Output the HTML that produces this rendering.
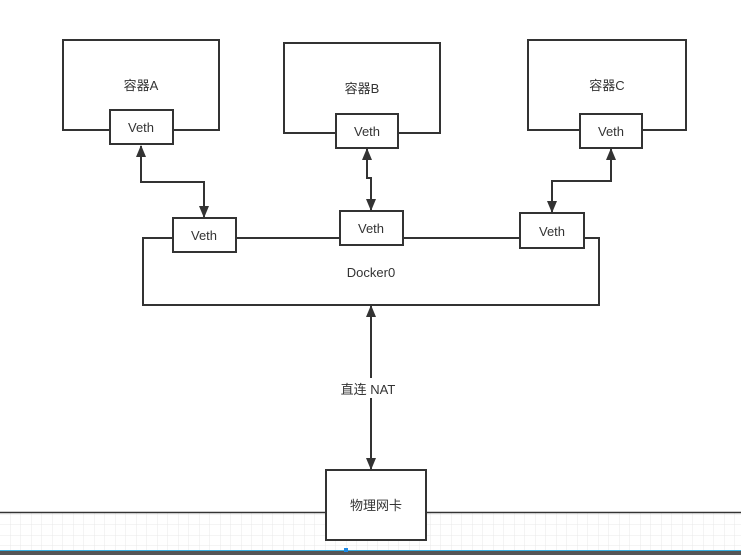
<!DOCTYPE html>
<html><head><meta charset="utf-8"><style>
body{margin:0;width:741px;height:555px;overflow:hidden;background:#fff}
svg text{font-family:"Liberation Sans","Noto Sans CJK SC",sans-serif;font-size:13px;fill:#333;text-anchor:middle}
</style></head><body>
<svg width="741" height="555" viewBox="0 0 741 555">
<defs>
<pattern id="g" width="10.5" height="10.5" patternUnits="userSpaceOnUse"><path d="M10.5 0V10.5M0 10.5H10.5" stroke="#e8e8e8" stroke-width="1" fill="none"/></pattern>
<marker id="a" markerWidth="12" markerHeight="10" refX="11" refY="5" orient="auto-start-reverse" markerUnits="userSpaceOnUse"><path d="M0 0L12 5L0 10z" fill="#333"/></marker>
</defs>
<rect x="0" y="513" width="741" height="37" fill="url(#g)"/>
<line x1="0" y1="512.5" x2="741" y2="512.5" stroke="#333" stroke-width="1.5"/>
<rect x="0" y="550" width="741" height="5" fill="#555"/>
<line x1="0" y1="550.5" x2="741" y2="550.5" stroke="#3ab0e0" stroke-width="1"/>
<rect x="344" y="548" width="4" height="4" fill="#1e88e5"/>
<g fill="#fff" stroke="#333" stroke-width="2">
<rect x="63" y="40" width="156" height="90"/>
<rect x="284" y="43" width="156" height="90"/>
<rect x="528" y="40" width="158" height="90"/>
<polyline points="173,238 143,238 143,305 599,305 599,238 584,238" fill="none"/>
<line x1="236" y1="238" x2="340" y2="238"/>
<line x1="403" y1="238" x2="520" y2="238"/>
<rect x="110" y="110" width="63" height="34"/>
<rect x="336" y="114" width="62" height="34"/>
<rect x="580" y="114" width="62" height="34"/>
<rect x="173" y="218" width="63" height="34"/>
<rect x="340" y="211" width="63" height="34"/>
<rect x="520" y="213" width="64" height="35"/>
<rect x="326" y="470" width="100" height="70"/>
</g>
<g fill="none" stroke="#333" stroke-width="2" marker-start="url(#a)" marker-end="url(#a)">
<polyline points="141,146 141,182 204,182 204,217"/>
<polyline points="367,149 367,178 371,178 371,210"/>
<polyline points="611,149 611,181 552,181 552,212"/>
<polyline points="371,306 371,469"/>
</g>
<rect x="333" y="378" width="72" height="20" fill="#fff"/>
<text x="141" y="90">容器A</text>
<text x="362" y="93">容器B</text>
<text x="607" y="90">容器C</text>
<text x="141" y="132">Veth</text>
<text x="367" y="136">Veth</text>
<text x="611" y="136">Veth</text>
<text x="204" y="240">Veth</text>
<text x="371" y="233">Veth</text>
<text x="552" y="236">Veth</text>
<text x="371" y="277">Docker0</text>
<text x="368" y="394">直连 NAT</text>
<text x="376" y="510">物理网卡</text>
</svg>
</body></html>
